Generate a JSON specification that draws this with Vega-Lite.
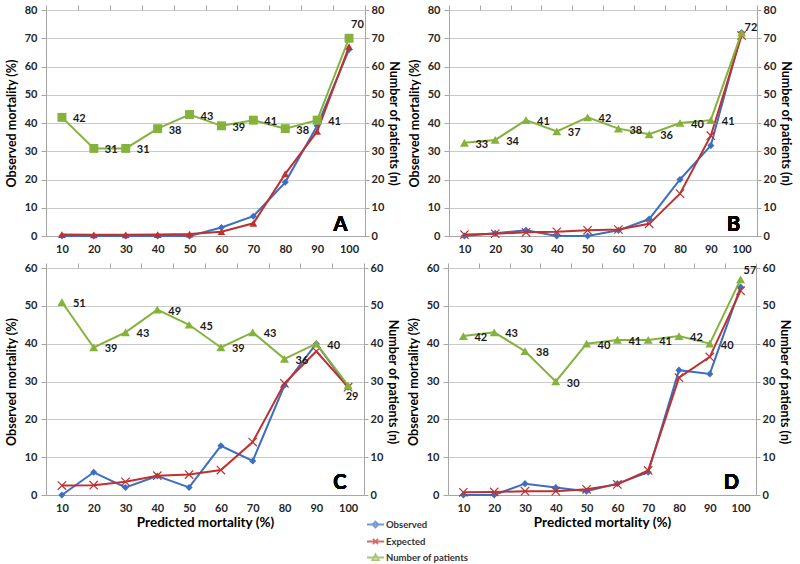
{
  "$schema": "https://vega.github.io/schema/vega-lite/v6.json",
  "padding": {"left": 5, "top": 4, "right": 2, "bottom": 2},
  "background": "white",
  "datasets": {
    "rows": [
      {"panel": "A", "pred": 10, "obs": 0, "exp": 0.5, "n": 42},
      {"panel": "A", "pred": 20, "obs": 0, "exp": 0.4, "n": 31},
      {"panel": "A", "pred": 30, "obs": 0, "exp": 0.4, "n": 31},
      {"panel": "A", "pred": 40, "obs": 0, "exp": 0.5, "n": 38},
      {"panel": "A", "pred": 50, "obs": 0, "exp": 0.7, "n": 43},
      {"panel": "A", "pred": 60, "obs": 3, "exp": 1.5, "n": 39},
      {"panel": "A", "pred": 70, "obs": 7, "exp": 4.5, "n": 41},
      {"panel": "A", "pred": 80, "obs": 19, "exp": 22, "n": 38},
      {"panel": "A", "pred": 90, "obs": 39, "exp": 37, "n": 41},
      {"panel": "A", "pred": 100, "obs": 66, "exp": 67, "n": 70},
      {"panel": "B", "pred": 10, "obs": 0, "exp": 0.5, "n": 33},
      {"panel": "B", "pred": 20, "obs": 1, "exp": 0.8, "n": 34},
      {"panel": "B", "pred": 30, "obs": 2, "exp": 1.3, "n": 41},
      {"panel": "B", "pred": 40, "obs": 0, "exp": 1.5, "n": 37},
      {"panel": "B", "pred": 50, "obs": 0, "exp": 2, "n": 42},
      {"panel": "B", "pred": 60, "obs": 2, "exp": 2.3, "n": 38},
      {"panel": "B", "pred": 70, "obs": 6, "exp": 4.3, "n": 36},
      {"panel": "B", "pred": 80, "obs": 20, "exp": 15, "n": 40},
      {"panel": "B", "pred": 90, "obs": 32, "exp": 35.5, "n": 41},
      {"panel": "B", "pred": 100, "obs": 72, "exp": 71, "n": 72},
      {"panel": "C", "pred": 10, "obs": 0, "exp": 2.5, "n": 51},
      {"panel": "C", "pred": 20, "obs": 6, "exp": 2.6, "n": 39},
      {"panel": "C", "pred": 30, "obs": 2, "exp": 3.5, "n": 43},
      {"panel": "C", "pred": 40, "obs": 5, "exp": 5.1, "n": 49},
      {"panel": "C", "pred": 50, "obs": 2, "exp": 5.4, "n": 45},
      {"panel": "C", "pred": 60, "obs": 13, "exp": 6.6, "n": 39},
      {"panel": "C", "pred": 70, "obs": 9, "exp": 14, "n": 43},
      {"panel": "C", "pred": 80, "obs": 29, "exp": 29.5, "n": 36},
      {"panel": "C", "pred": 90, "obs": 40, "exp": 38, "n": 40},
      {"panel": "C", "pred": 100, "obs": 28.5, "exp": 28.5, "n": 29},
      {"panel": "D", "pred": 10, "obs": 0, "exp": 0.7, "n": 42},
      {"panel": "D", "pred": 20, "obs": 0, "exp": 0.8, "n": 43},
      {"panel": "D", "pred": 30, "obs": 3, "exp": 1, "n": 38},
      {"panel": "D", "pred": 40, "obs": 2, "exp": 1, "n": 30},
      {"panel": "D", "pred": 50, "obs": 1, "exp": 1.5, "n": 40},
      {"panel": "D", "pred": 60, "obs": 3, "exp": 2.8, "n": 41},
      {"panel": "D", "pred": 70, "obs": 6, "exp": 6.5, "n": 41},
      {"panel": "D", "pred": 80, "obs": 33, "exp": 31, "n": 42},
      {"panel": "D", "pred": 90, "obs": 32, "exp": 36.5, "n": 40},
      {"panel": "D", "pred": 100, "obs": 55, "exp": 54, "n": 57}
    ],
    "series": [
      {"series": "Observed"},
      {"series": "Expected"},
      {"series": "Number of patients"}
    ]
  },
  "data": {"name": "rows"},
  "vconcat": [
    {
      "hconcat": [
        {
          "width": 319, "height": 226,
          "transform": [{"filter": "datum.panel === 'A'"}],
          "layer": [
            {"layer": [
              {"mark": {"type": "line", "color": "#3B6FC1", "strokeWidth": 2, "point": {"shape": "diamond", "filled": true, "size": 50, "color": "#3B6FC1"}},
               "encoding": {
                 "x": {"field": "pred", "type": "quantitative", "scale": {"domain": [5, 105], "nice": false}, "axis": {"values": [10,20,30,40,50,60,70,80,90,100], "tickCount": 30, "labelOverlap": false, "ticks": false, "grid": false, "labelPadding": 7, "labelFlush": false, "title": null}},
                 "y": {"field": "obs", "type": "quantitative", "scale": {"domain": [0, 80], "nice": false}, "axis": {"orient": "left", "values": [0,10,20,30,40,50,60,70,80], "tickCount": 30, "labelOverlap": false, "grid": true, "tickSize": 5, "labelPadding": 4, "title": "Observed mortality (%)", "titlePadding": 6}}
               }},
              {"mark": {"type": "line", "color": "#BF3131", "strokeWidth": 2, "point": {"shape": "triangle-up", "filled": true, "size": 60, "color": "#BF3131"}},
               "encoding": {
                 "x": {"field": "pred", "type": "quantitative", "scale": {"domain": [5, 105], "nice": false}},
                 "y": {"field": "exp", "type": "quantitative", "scale": {"domain": [0, 80], "nice": false}, "axis": {"title": "Observed mortality (%)"}}
               }},
              {"mark": {"type": "text", "text": "A", "fontSize": 20, "fontWeight": "bold", "font": "Lato", "align": "right", "baseline": "bottom", "color": "#000000"},
               "encoding": {"x": {"datum": 99.5}, "y": {"datum": 0.5}}}
            ]},
            {"layer": [
              {"mark": {"type": "line", "color": "#84B23B", "strokeWidth": 2, "point": {"shape": "square", "filled": true, "size": 80, "color": "#84B23B"}},
               "encoding": {
                 "x": {"field": "pred", "type": "quantitative", "scale": {"domain": [5, 105], "nice": false}, "axis": {"values": [5,15,25,35,45,55,65,75,85,95,105], "tickCount": 30, "labels": false, "domain": false, "ticks": true, "tickSize": 5, "grid": false, "title": null}},
                 "y": {"field": "n", "type": "quantitative", "scale": {"domain": [0, 80], "nice": false}, "axis": {"orient": "right", "values": [0,10,20,30,40,50,60,70,80], "tickCount": 30, "labelOverlap": false, "grid": false, "tickSize": 4, "labelPadding": 2, "title": "Number of patients (n)", "titlePadding": 3}}
               }},
              {"transform": [{"filter": "datum.pred < 100"}],
               "mark": {"type": "text", "align": "left", "baseline": "middle", "dx": 11, "dy": 2, "fontSize": 11, "fontWeight": "bold", "font": "Lato", "color": "#1A1A1A"},
               "encoding": {"x": {"field": "pred", "type": "quantitative"}, "y": {"field": "n", "type": "quantitative"}, "text": {"field": "n"}}},
              {"transform": [{"filter": "datum.pred == 100"}],
               "mark": {"type": "text", "align": "left", "baseline": "middle", "dx": 2, "dy": -13, "fontSize": 11, "fontWeight": "bold", "font": "Lato", "color": "#1A1A1A"},
               "encoding": {"x": {"field": "pred", "type": "quantitative"}, "y": {"field": "n", "type": "quantitative"}, "text": {"field": "n"}}}
            ]}
          ],
          "resolve": {"scale": {"y": "independent"}, "axis": {"x": "independent"}}
        },
        {
          "width": 308, "height": 226,
          "transform": [{"filter": "datum.panel === 'B'"}],
          "layer": [
            {"layer": [
              {"mark": {"type": "line", "color": "#3B6FC1", "strokeWidth": 2, "point": {"shape": "diamond", "filled": true, "size": 50, "color": "#3B6FC1"}},
               "encoding": {
                 "x": {"field": "pred", "type": "quantitative", "scale": {"domain": [5, 105], "nice": false}, "axis": {"values": [10,20,30,40,50,60,70,80,90,100], "tickCount": 30, "labelOverlap": false, "ticks": false, "grid": false, "labelPadding": 7, "labelFlush": false, "title": null}},
                 "y": {"field": "obs", "type": "quantitative", "scale": {"domain": [0, 80], "nice": false}, "axis": {"orient": "left", "values": [0,10,20,30,40,50,60,70,80], "tickCount": 30, "labelOverlap": false, "grid": true, "tickSize": 5, "labelPadding": 4, "title": "Observed mortality (%)", "titlePadding": 6}}
               }},
              {"mark": {"type": "line", "color": "#BF3131", "strokeWidth": 2, "point": {"shape": "M-1,-1L1,1M-1,1L1,-1", "filled": false, "strokeWidth": 1.2, "size": 70, "color": "#BF3131"}},
               "encoding": {
                 "x": {"field": "pred", "type": "quantitative", "scale": {"domain": [5, 105], "nice": false}},
                 "y": {"field": "exp", "type": "quantitative", "scale": {"domain": [0, 80], "nice": false}, "axis": {"title": "Observed mortality (%)"}}
               }},
              {"mark": {"type": "text", "text": "B", "fontSize": 20, "fontWeight": "bold", "font": "Lato", "align": "right", "baseline": "bottom", "color": "#000000"},
               "encoding": {"x": {"datum": 99.5}, "y": {"datum": 0.5}}}
            ]},
            {"layer": [
              {"mark": {"type": "line", "color": "#84B23B", "strokeWidth": 2, "point": {"shape": "triangle-up", "filled": true, "size": 80, "color": "#84B23B"}},
               "encoding": {
                 "x": {"field": "pred", "type": "quantitative", "scale": {"domain": [5, 105], "nice": false}, "axis": {"values": [5,15,25,35,45,55,65,75,85,95,105], "tickCount": 30, "labels": false, "domain": false, "ticks": true, "tickSize": 5, "grid": false, "title": null}},
                 "y": {"field": "n", "type": "quantitative", "scale": {"domain": [0, 80], "nice": false}, "axis": {"orient": "right", "values": [0,10,20,30,40,50,60,70,80], "tickCount": 30, "labelOverlap": false, "grid": false, "tickSize": 4, "labelPadding": 2, "title": "Number of patients (n)", "titlePadding": 3}}
               }},
              {"transform": [{"filter": "datum.pred < 100"}],
               "mark": {"type": "text", "align": "left", "baseline": "middle", "dx": 11, "dy": 2, "fontSize": 11, "fontWeight": "bold", "font": "Lato", "color": "#1A1A1A"},
               "encoding": {"x": {"field": "pred", "type": "quantitative"}, "y": {"field": "n", "type": "quantitative"}, "text": {"field": "n"}}},
              {"transform": [{"filter": "datum.pred == 100"}],
               "mark": {"type": "text", "align": "left", "baseline": "middle", "dx": 3, "dy": -5, "fontSize": 11, "fontWeight": "bold", "font": "Lato", "color": "#1A1A1A"},
               "encoding": {"x": {"field": "pred", "type": "quantitative"}, "y": {"field": "n", "type": "quantitative"}, "text": {"field": "n"}}}
            ]}
          ],
          "resolve": {"scale": {"y": "independent"}, "axis": {"x": "independent"}}
        }
      ],
      "spacing": 8
    },
    {
      "hconcat": [
        {
          "width": 318, "height": 227,
          "transform": [{"filter": "datum.panel === 'C'"}],
          "layer": [
            {"layer": [
              {"mark": {"type": "line", "color": "#3B6FC1", "strokeWidth": 2, "point": {"shape": "diamond", "filled": true, "size": 50, "color": "#3B6FC1"}},
               "encoding": {
                 "x": {"field": "pred", "type": "quantitative", "scale": {"domain": [5, 105], "nice": false}, "axis": {"values": [10,20,30,40,50,60,70,80,90,100], "tickCount": 30, "labelOverlap": false, "ticks": false, "grid": false, "labelPadding": 7, "labelFlush": false, "title": "Predicted mortality (%)", "titleFontSize": 13.5, "titlePadding": 2}},
                 "y": {"field": "obs", "type": "quantitative", "scale": {"domain": [0, 60], "nice": false}, "axis": {"orient": "left", "values": [0,10,20,30,40,50,60], "tickCount": 30, "labelOverlap": false, "grid": true, "tickSize": 5, "labelPadding": 4, "title": "Observed mortality (%)", "titlePadding": 6}}
               }},
              {"mark": {"type": "line", "color": "#BF3131", "strokeWidth": 2, "point": {"shape": "M-1,-1L1,1M-1,1L1,-1", "filled": false, "strokeWidth": 1.2, "size": 70, "color": "#BF3131"}},
               "encoding": {
                 "x": {"field": "pred", "type": "quantitative", "scale": {"domain": [5, 105], "nice": false}},
                 "y": {"field": "exp", "type": "quantitative", "scale": {"domain": [0, 60], "nice": false}, "axis": {"title": "Observed mortality (%)"}}
               }},
              {"mark": {"type": "text", "text": "C", "fontSize": 20, "fontWeight": "bold", "font": "Lato", "align": "right", "baseline": "bottom", "color": "#000000"},
               "encoding": {"x": {"datum": 99.5}, "y": {"datum": 0.5}}},
              {"data": {"name": "series"},
               "transform": [{"filter": "false"}],
               "mark": {"type": "point", "filled": false, "strokeWidth": 1.8},
               "encoding": {
                 "color": {"field": "series", "type": "nominal", "scale": {"domain": ["Observed", "Expected", "Number of patients"], "range": ["#3B6FC1", "#BF3131", "#84B23B"]},
                   "legend": {"orient": "none", "legendX": 320, "legendY": 505, "title": null, "symbolSize": 289, "symbolStrokeWidth": 1.8, "labelFont": "Lato", "labelFontSize": 9.5, "labelFontWeight": "bold", "labelColor": "#333333", "rowPadding": 0, "labelOffset": 1}},
                 "shape": {"field": "series", "type": "nominal", "scale": {"domain": ["Observed", "Expected", "Number of patients"], "range": ["M-1,0L1,0M0,-0.35L0.35,0L0,0.35L-0.35,0Z", "M-1,0L1,0M-0.3,-0.3L0.3,0.3M-0.3,0.3L0.3,-0.3", "M-1,0L1,0M0,-0.38L0.38,0.3L-0.38,0.3Z"]}}
               }}
            ]},
            {"layer": [
              {"mark": {"type": "line", "color": "#84B23B", "strokeWidth": 2, "point": {"shape": "triangle-up", "filled": true, "size": 80, "color": "#84B23B"}},
               "encoding": {
                 "x": {"field": "pred", "type": "quantitative", "scale": {"domain": [5, 105], "nice": false}, "axis": {"values": [5,15,25,35,45,55,65,75,85,95,105], "tickCount": 30, "labels": false, "domain": false, "ticks": true, "tickSize": 5, "grid": false, "title": null}},
                 "y": {"field": "n", "type": "quantitative", "scale": {"domain": [0, 60], "nice": false}, "axis": {"orient": "right", "values": [0,10,20,30,40,50,60], "tickCount": 30, "labelOverlap": false, "grid": false, "tickSize": 4, "labelPadding": 2, "title": "Number of patients (n)", "titlePadding": 3}}
               }},
              {"transform": [{"filter": "datum.pred < 100"}],
               "mark": {"type": "text", "align": "left", "baseline": "middle", "dx": 11, "dy": 2, "fontSize": 11, "fontWeight": "bold", "font": "Lato", "color": "#1A1A1A"},
               "encoding": {"x": {"field": "pred", "type": "quantitative"}, "y": {"field": "n", "type": "quantitative"}, "text": {"field": "n"}}},
              {"transform": [{"filter": "datum.pred == 100"}],
               "mark": {"type": "text", "align": "center", "baseline": "middle", "dx": 4, "dy": 12, "fontSize": 11, "fontWeight": "bold", "font": "Lato", "color": "#1A1A1A"},
               "encoding": {"x": {"field": "pred", "type": "quantitative"}, "y": {"field": "n", "type": "quantitative"}, "text": {"field": "n"}}}
            ]}
          ],
          "resolve": {"scale": {"y": "independent"}, "axis": {"x": "independent"}}
        },
        {
          "width": 308, "height": 227,
          "transform": [{"filter": "datum.panel === 'D'"}],
          "layer": [
            {"layer": [
              {"mark": {"type": "line", "color": "#3B6FC1", "strokeWidth": 2, "point": {"shape": "diamond", "filled": true, "size": 50, "color": "#3B6FC1"}},
               "encoding": {
                 "x": {"field": "pred", "type": "quantitative", "scale": {"domain": [5, 105], "nice": false}, "axis": {"values": [10,20,30,40,50,60,70,80,90,100], "tickCount": 30, "labelOverlap": false, "ticks": false, "grid": false, "labelPadding": 7, "labelFlush": false, "title": "Predicted mortality (%)", "titleFontSize": 13.5, "titlePadding": 2}},
                 "y": {"field": "obs", "type": "quantitative", "scale": {"domain": [0, 60], "nice": false}, "axis": {"orient": "left", "values": [0,10,20,30,40,50,60], "tickCount": 30, "labelOverlap": false, "grid": true, "tickSize": 5, "labelPadding": 4, "title": "Observed mortality (%)", "titlePadding": 6}}
               }},
              {"mark": {"type": "line", "color": "#BF3131", "strokeWidth": 2, "point": {"shape": "M-1,-1L1,1M-1,1L1,-1", "filled": false, "strokeWidth": 1.2, "size": 70, "color": "#BF3131"}},
               "encoding": {
                 "x": {"field": "pred", "type": "quantitative", "scale": {"domain": [5, 105], "nice": false}},
                 "y": {"field": "exp", "type": "quantitative", "scale": {"domain": [0, 60], "nice": false}, "axis": {"title": "Observed mortality (%)"}}
               }},
              {"mark": {"type": "text", "text": "D", "fontSize": 20, "fontWeight": "bold", "font": "Lato", "align": "right", "baseline": "bottom", "color": "#000000"},
               "encoding": {"x": {"datum": 99.5}, "y": {"datum": 0.5}}}
            ]},
            {"layer": [
              {"mark": {"type": "line", "color": "#84B23B", "strokeWidth": 2, "point": {"shape": "triangle-up", "filled": true, "size": 80, "color": "#84B23B"}},
               "encoding": {
                 "x": {"field": "pred", "type": "quantitative", "scale": {"domain": [5, 105], "nice": false}, "axis": {"values": [5,15,25,35,45,55,65,75,85,95,105], "tickCount": 30, "labels": false, "domain": false, "ticks": true, "tickSize": 5, "grid": false, "title": null}},
                 "y": {"field": "n", "type": "quantitative", "scale": {"domain": [0, 60], "nice": false}, "axis": {"orient": "right", "values": [0,10,20,30,40,50,60], "tickCount": 30, "labelOverlap": false, "grid": false, "tickSize": 4, "labelPadding": 2, "title": "Number of patients (n)", "titlePadding": 3}}
               }},
              {"transform": [{"filter": "datum.pred < 100"}],
               "mark": {"type": "text", "align": "left", "baseline": "middle", "dx": 11, "dy": 2, "fontSize": 11, "fontWeight": "bold", "font": "Lato", "color": "#1A1A1A"},
               "encoding": {"x": {"field": "pred", "type": "quantitative"}, "y": {"field": "n", "type": "quantitative"}, "text": {"field": "n"}}},
              {"transform": [{"filter": "datum.pred == 100"}],
               "mark": {"type": "text", "align": "left", "baseline": "middle", "dx": 3, "dy": -8, "fontSize": 11, "fontWeight": "bold", "font": "Lato", "color": "#1A1A1A"},
               "encoding": {"x": {"field": "pred", "type": "quantitative"}, "y": {"field": "n", "type": "quantitative"}, "text": {"field": "n"}}}
            ]}
          ],
          "resolve": {"scale": {"y": "independent"}, "axis": {"x": "independent"}}
        }
      ],
      "spacing": 8
    }
  ],
  "spacing": 8,
  "config": {
    "view": {"stroke": null},
    "font": "Lato",
    "axis": {
      "labelFont": "Lato", "labelFontWeight": "bold", "labelFontSize": 11, "labelColor": "#262626", "labelOverlap": false,
      "titleFont": "Lato", "titleFontWeight": "bold", "titleFontSize": 12.5, "titleColor": "#000000",
      "domainColor": "#A6A6A6", "tickColor": "#A6A6A6", "gridColor": "#C9C9C9", "domainWidth": 1, "gridWidth": 1
    }
  }
}
